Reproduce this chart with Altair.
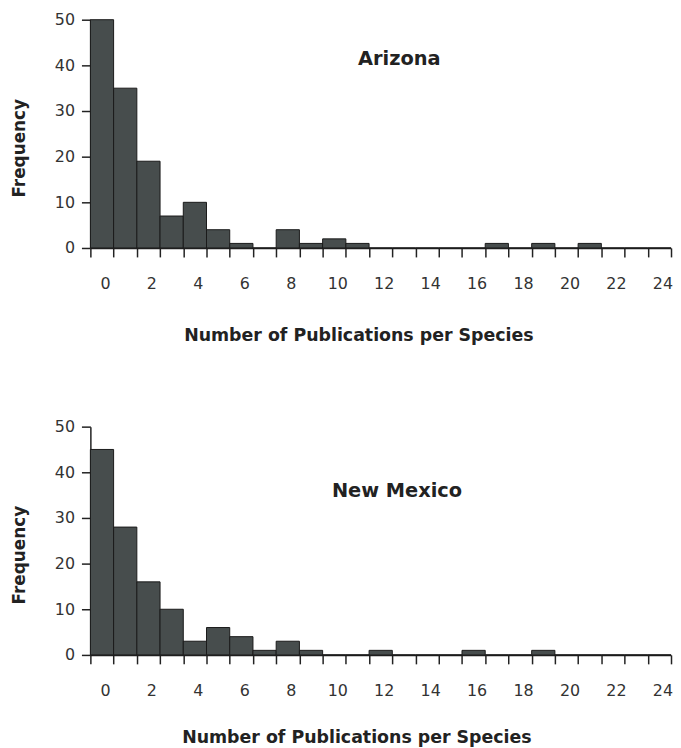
import altair as alt
import pandas as pd

bins = list(range(25))
arizona = [50, 35, 19, 7, 10, 4, 1, 0, 4, 1, 2, 1, 0, 0, 0, 0, 0, 1, 0, 1, 0, 1, 0, 0, 0]
new_mexico = [45, 28, 16, 10, 3, 6, 4, 1, 3, 1, 0, 0, 1, 0, 0, 0, 1, 0, 0, 1, 0, 0, 0, 0, 0]
tick_positions = list(range(26))
label_bins = list(range(0, 25, 2))
y_ticks = [0, 10, 20, 30, 40, 50]

FONT = "DejaVu Sans"
BAR_FILL = "#474d4d"
INK = "#222222"
H = 230
W = 585


def y_axis():
    return alt.Axis(
        values=y_ticks, tickSize=9, labelPadding=7, grid=False,
        title="Frequency", titleFont=FONT, titleFontSize=17,
        titleFontWeight="bold", titleColor=INK, titleX=-62,
        titleY=H / 2 + 14, titleAngle=270, titleBaseline="bottom",
        titleAlign="center",
        labelFont=FONT, labelFontSize=16, labelColor="#333333",
        domainColor=INK, tickColor=INK, domainWidth=1.5, tickWidth=1.5)


def panel(values, name, tx, ty, xtx, tpad):
    df = pd.DataFrame({"bin": bins, "bin_end": [b + 1 for b in bins], "count": values})
    lab = pd.DataFrame({"mid": [b + 0.5 for b in label_bins]})
    xs = alt.Scale(domain=[0, 25], nice=False, zero=False)
    ys = alt.Scale(domain=[0, 50], nice=False)
    bars = alt.Chart(df).mark_bar(
        fill=BAR_FILL, stroke="#1a1a1a", strokeWidth=1
    ).encode(
        x=alt.X("bin:Q", scale=xs, axis=alt.Axis(
            values=tick_positions, labels=False, ticks=True, tickSize=9,
            grid=False, title=None, domainColor=INK, tickColor=INK,
            domainWidth=1.5, tickWidth=1.5)),
        x2="bin_end:Q",
        y=alt.Y("count:Q", scale=ys, axis=y_axis()),
        y2=alt.datum(0),
    )
    labels = alt.Chart(lab).mark_point(opacity=0).encode(
        x=alt.X("mid:Q", scale=xs, axis=alt.Axis(
            orient="bottom", values=[b + 0.5 for b in label_bins],
            labelExpr="format(datum.value - 0.5, 'd')", ticks=False,
            tickSize=0, domain=False, grid=False, labelPadding=28,
            labelOffset=3, labelFont=FONT, labelFontSize=16,
            labelColor="#333333",
            title="Number of Publications per Species", titleFont=FONT,
            titleFontSize=17.5, titleFontWeight="bold", titleColor=INK,
            titlePadding=tpad, titleX=xtx, titleAlign="center")),
    )
    title = alt.Chart(pd.DataFrame({"t": [name], "x": [tx], "y": [ty]})).mark_text(
        font=FONT, fontSize=19.5, fontWeight="bold", color=INK, baseline="middle"
    ).encode(
        x=alt.X("x:Q", scale=xs, axis=None),
        y=alt.Y("y:Q", scale=ys, axis=y_axis()),
        text="t:N",
    )
    return alt.layer(bars, labels, title).resolve_axis(x="independent").properties(
        width=W, height=H
    )


top = panel(arizona, "Arizona", 13.3, 41.4, 270, 35)
bottom = panel(new_mexico, "New Mexico", 13.2, 36, 268, 30)

chart = alt.vconcat(top, bottom, spacing=75).properties(
    padding={"left": 3, "top": 1, "right": 0, "bottom": 0}
).configure_view(stroke=None)

chart.save("out.html", embed_options={"renderer": "svg", "actions": False})
